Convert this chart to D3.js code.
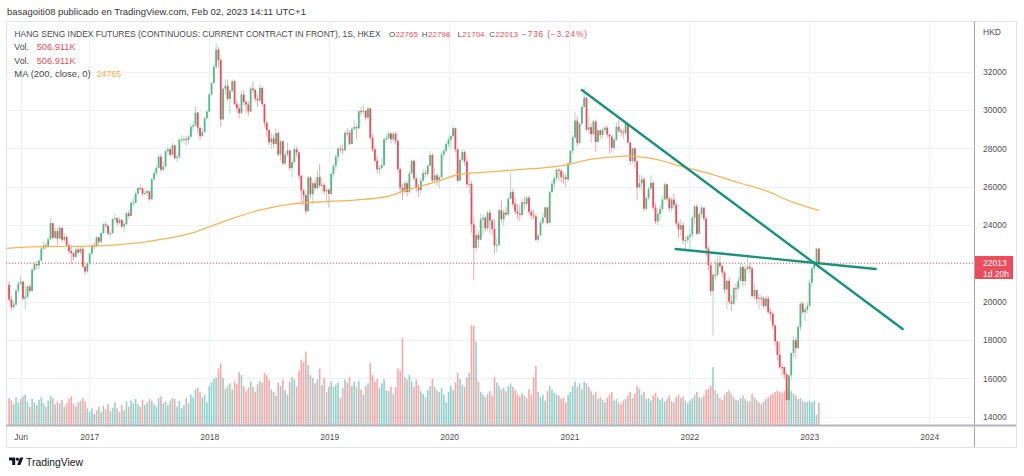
<!DOCTYPE html>
<html>
<head>
<meta charset="utf-8">
<title>Hang Seng Index Futures - weekly</title>
<style>
    body { margin: 0; background: #fff; }
    text { font-family: "Liberation Sans", Arial, sans-serif; }
    .grid line { stroke: #edf0f4; stroke-width: 1px; shape-rendering: crispEdges; }
    .axis text { fill: #4f4f4f; font-size: 8.5px; }
    .legend { font-size: 8.8px; fill: #4a4a4a; }
    .val { fill: #eb4d5c; }
</style>
<script src="https://d3js.org/d3.v7.min.js"></script>
</head>
<body>
<svg id="chart" width="1024" height="476"></svg>
<script>
// weekly bars, first one starts on this monday
const firstWeek = "2016-05-02";

const open = [
    20870,20109,19719,19852,20577,20947,21042,20170,20259,20794,20564,21659,21964,21891,22146,22766,22937,22909,23266,24099,23335,23686,23297,23852,23233,23374,22955,22642,22531,22344,22723,22564,22761,21833,21575,
    22001,22504,22937,22885,23360,23129,23575,24034,23965,23553,23568,24309,24358,24111,24267,23924,24042,24615,24476,25156,25174,25639,25924,25915,25626,25670,25765,25341,26389,26706,26979,27563,26884,27047,27848,27953,27668,28161,27500,27554,28458,28476,28487,28439,28604,29121,29199,29866,29074,28640,28848,29578,
    29919,30814,31412,32255,33154,32602,29507,31115,31268,30583,30996,31502,30309,30093,29844,30808,30418,30281,29927,31122,31048,30588,30493,31158,30309,29338,28955,28316,28525,28224,28804,27676,28367,27213,27672,27889,26973,27286,27954,27789,26573,25801,25561,24717,26486,25601,26183,25928,26506,26064,26095,25753,25845,
    25626,26667,27090,27569,27990,27946,27901,28816,28812,28228,29012,29113,29051,29936,29909,29963,29605,30082,28550,27946,27354,26901,26965,27118,28473,28543,28775,28471,28765,28397,26919,25939,25734,26179,25725,26691,27352,26435,25955,25821,26308,26720,26667,27101,27651,26327,26595,26346,26498,27688,27871,28225,
    28452,28638,29056,27950,26313,27404,27815,27309,26130,26146,24033,22805,23484,23236,24300,24380,23832,24644,24230,23797,22930,22961,24770,24301,24644,24549,25373,25727,25089,24705,24595,24531,25183,25113,25422,24695,24503,24455,23235,23459,24119,24387,24918,24107,25712,26157,26451,26894,26836,26506,26498,26387,
    27231,27878,28573,29447,28284,29289,30173,30644,28980,29099,28740,29405,28336,28939,28699,28970,29078,28725,28610,28027,28458,29124,28918,28842,28801,29288,28310,27344,28004,27321,25961,26179,26391,24849,25407,25901,26205,24920,24192,24575,24837,25330,26126,25377,24870,25327,25049,24080,23766,23995,23192,23223,
    23397,23493,24383,24965,23550,24573,24906,24327,22767,21905,20553,21412,21404,22039,21872,21518,20638,21089,20001,19898,20717,20697,21082,21806,21075,21719,21830,21725,20297,20609,20157,20201,20175,19773,20170,19452,19362,18762,17933,17223,16588,16587,16211,14863,16161,17326,17993,17574,18675,19900,19450,19593,
    19781,21000,21738,22045,22765
];
const high = [
    21050,20300,20050,20650,21050,21330,21100,20880,20880,20950,21750,22080,22100,22200,22850,23120,23050,23350,24360,24100,23880,23850,23950,23900,23550,23450,23050,22950,22600,22800,22880,22900,22850,21900,22050,
    22550,23000,23100,23420,23380,23650,24100,24180,24000,23700,24380,24600,24400,24400,24300,24150,24700,24750,25250,25450,25750,26000,26100,25950,25850,25900,25800,26450,26850,27150,27650,27700,27300,27950,28150,28050,28300,28200,27750,28500,28700,28650,28650,28700,29250,29400,30200,29900,29100,29050,29650,30000,
    30900,31450,32400,33480,33300,32700,31200,31600,31600,31100,31600,31550,30500,30300,31000,31050,30500,30450,31200,31500,31100,30800,31350,31200,30350,29400,29000,28800,28700,29050,28900,28450,28400,27800,28300,27950,27450,28150,28100,27850,26600,25900,25650,26550,26550,26300,26400,26850,27200,26400,26200,25900,25900,
    26800,27200,27650,28050,28150,28200,28900,29050,28950,29100,29500,29250,30000,30150,30280,30000,30200,30100,28750,28050,27600,27150,27500,28550,28750,28950,28850,28850,28850,28450,26950,26150,26300,26300,26800,27400,27400,26500,26150,26450,26900,26900,27150,27850,27750,27000,26700,26600,27800,28050,28300,28600,
    28700,29200,29100,28000,27500,27950,27900,27500,26750,26300,24400,23900,23700,24600,24550,24500,24750,24800,24350,24300,23350,24850,25300,24800,24950,25450,26750,25900,25450,25100,25050,25350,25500,25500,25550,24800,24800,24600,23550,24250,24650,24950,24950,25800,26350,26550,26950,26950,26900,26750,26650,27300,
    27900,28700,29900,29700,29350,30200,31180,30700,29700,29300,29500,29500,29000,29000,29100,29200,29200,28750,28700,28550,29350,29500,29000,29000,29350,29350,28350,28050,28050,27350,26650,26600,26500,25500,26000,26600,26300,25150,24800,25050,25550,26200,26150,25500,25450,25650,25200,24200,24300,24150,23400,23500,
    23800,24500,25050,25100,24700,25050,24950,24450,22900,22050,21550,22200,22400,22400,21900,21600,21150,21300,20350,20800,20950,21300,22050,21950,21900,22300,22050,21850,20950,20650,20350,20350,20300,20300,20300,19650,19500,18800,17950,17900,16750,16600,16300,16200,17350,18200,18150,18800,19950,20000,19700,20000,
    21150,21800,22150,22800,22798
];
const low = [
    19990,19550,19600,19780,20450,20880,20050,19600,20150,20480,20500,21600,21680,21700,22100,22700,22750,22850,23200,23250,23250,22950,23280,23100,23100,22900,22500,21950,22150,22300,22450,22450,21750,21400,21500,
    21900,22400,22700,22850,22900,23050,23550,23850,23450,23350,23550,24200,23950,24050,23850,23650,24000,24350,24450,24950,25100,25550,25800,25500,25550,25550,25250,25300,26300,26600,26950,26750,26800,27000,27700,27550,27650,27400,27300,27500,28300,28300,28150,28250,28550,28900,29150,28800,28450,28600,28800,29500,
    29900,30750,31350,32150,32200,29100,29500,30800,30450,29800,30950,30250,29850,29550,29800,30250,29800,29700,29900,30900,30400,30150,30450,30200,29100,28600,28150,27950,28000,28150,27600,27350,27100,27150,27600,26850,26500,27200,27550,26400,25050,25050,24550,24700,25400,25100,25800,25850,25950,25650,25600,25100,24900,
    25550,26500,26900,27300,27750,27700,27850,28600,28150,28200,28950,28500,29000,29700,29800,29450,29500,28400,27800,27250,26700,26650,26900,27100,28300,28450,28250,28300,28200,26750,25650,25300,25650,25500,25650,26650,26300,25700,25450,25600,26250,26500,26550,27050,26200,26250,26050,25900,26450,27500,27800,28050,
    27950,28550,27800,26200,26300,27300,27100,25950,25600,23600,21140,22600,22800,23200,23500,23650,23700,23600,23500,22500,22550,22900,24100,23950,24450,24450,25350,24950,24550,24300,24200,24450,24800,24950,24500,24300,24300,23150,23100,23450,24050,24350,24050,24100,25700,25900,26300,26300,26200,26150,26000,26300,
    27200,27700,28450,28100,28250,29200,30100,28900,28800,28300,28700,27800,28300,28500,28500,28800,28550,27750,27800,27900,28400,28800,28650,28500,28700,28250,27150,27200,27000,25300,25900,25800,24700,24750,25300,25850,24750,24050,24000,24200,24700,25300,25250,24700,24700,24850,23950,23300,23400,23000,22650,23050,
    22750,23350,24050,23450,23500,24400,24200,22400,21650,20300,18230,21100,21300,21750,21300,20450,19600,19850,19500,19800,20100,20550,21050,20800,20800,21600,21500,20200,20100,19900,19600,19800,19650,19600,19350,19000,18550,17700,16950,16500,16150,15950,14700,14600,15900,17100,17050,17550,18500,19350,19000,19400,
    19750,20800,21500,21900,21704
];
const close = [
    20109,19719,19852,20577,20947,21042,20170,20259,20794,20564,21659,21964,21891,22146,22766,22937,22909,23266,24099,23335,23686,23297,23852,23233,23374,22955,22642,22531,22344,22723,22564,22761,21833,21575,22001,
    22504,22937,22885,23360,23129,23575,24034,23965,23553,23568,24309,24358,24111,24267,23924,24042,24615,24476,25156,25174,25639,25924,25915,25626,25670,25765,25341,26389,26706,26979,27563,26884,27047,27848,27953,27668,28161,27500,27554,28458,28476,28487,28439,28604,29121,29199,29866,29074,28640,28848,29578,29919,
    30814,31412,32255,33154,32602,29507,31115,31268,30583,30996,31502,30309,30093,29844,30808,30418,30281,29927,31122,31048,30588,30493,31158,30309,29338,28955,28316,28525,28224,28804,27676,28367,27213,27672,27889,26973,27286,27954,27789,26573,25801,25561,24717,26486,25601,26183,25928,26506,26064,26095,25753,25845,25626,
    26667,27090,27569,27990,27946,27901,28816,28812,28228,29012,29113,29051,29936,29909,29963,29605,30082,28550,27946,27354,26901,26965,27118,28473,28543,28775,28471,28765,28397,26919,25939,25734,26179,25725,26691,27352,26435,25955,25821,26308,26720,26667,27101,27651,26327,26595,26346,26498,27688,27871,28225,28452,
    28638,29056,27950,26313,27404,27815,27309,26130,26146,24033,22805,23484,23236,24300,24380,23832,24644,24230,23797,22930,22961,24770,24301,24644,24549,25373,25727,25089,24705,24595,24531,25183,25113,25422,24695,24503,24455,23235,23459,24119,24387,24918,24107,25712,26157,26451,26894,26836,26506,26498,26387,27231,
    27878,28573,29447,28284,29289,30173,30644,28980,29099,28740,29405,28336,28939,28699,28970,29078,28725,28610,28027,28458,29124,28918,28842,28801,29288,28310,27344,28004,27321,25961,26179,26391,24849,25407,25901,26205,24920,24192,24575,24837,25330,26126,25377,24870,25327,25049,24080,23766,23995,23192,23223,23397,
    23493,24383,24965,23550,24573,24906,24327,22767,21905,20553,21412,21404,22039,21872,21518,20638,21089,20001,19898,20717,20697,21082,21806,21075,21719,21830,21725,20297,20609,20157,20201,20175,19773,20170,19452,19362,18762,17933,17223,16588,16587,16211,14863,16161,17326,17993,17574,18675,19900,19450,19593,19781,
    21000,21738,22045,22765,22013
];
// volume in thousands of contracts
const volume = [
    620,560,480,640,520,600,660,700,540,420,600,520,460,580,640,500,420,560,680,620,480,540,500,580,420,500,600,660,480,420,520,560,620,540,380,
    300,380,260,340,420,300,440,360,480,320,400,520,380,300,460,340,540,420,560,500,600,480,420,580,460,520,600,560,480,420,620,660,500,540,460,560,620,600,420,560,380,460,620,500,700,640,820,860,760,640,700,520,
    900,980,1060,1100,1300,1420,1080,840,900,960,820,1000,940,1220,1150,900,780,860,1000,880,760,940,1020,980,1200,1150,1050,820,760,680,980,900,1050,800,700,1000,1100,1050,880,1250,1500,1450,1690,1380,1150,1080,960,1050,1300,920,1080,760,880,
    1000,880,920,980,620,860,1050,980,1100,900,1000,880,1020,820,700,900,960,1430,1150,1000,1060,860,960,1050,800,780,880,720,880,1300,1250,2000,1100,1050,1150,1000,880,1050,920,780,720,640,800,900,1060,880,800,760,860,700,520,760,
    900,800,980,1200,1060,920,880,1100,1200,2300,2280,1920,1000,760,700,640,720,780,680,1100,980,900,820,860,780,900,960,880,800,720,660,740,680,620,820,700,1100,1360,760,640,700,560,780,900,820,740,700,680,600,640,520,700,
    760,900,1000,880,960,820,1000,960,880,780,700,760,600,640,580,520,620,700,760,560,600,520,480,560,600,680,760,620,720,900,840,700,760,600,620,560,680,740,640,580,620,540,600,680,560,520,640,700,620,660,560,500,
    560,620,700,760,640,620,680,820,840,900,1330,800,720,620,580,700,760,800,720,640,580,560,620,680,600,560,540,720,640,580,520,480,540,600,640,700,720,760,800,760,740,780,840,820,780,720,680,600,620,560,520,540,
    560,520,560,240,506.911
];

// MA (200, close)
const maDates = ["2016-04-25","2016-08-01","2017-01-02","2017-03-27","2017-09-04","2017-11-13","2018-01-01","2018-02-26","2018-05-28","2018-09-10",
    "2019-01-02","2019-03-18","2019-06-24","2019-08-26","2019-11-25","2020-02-03","2020-05-04","2020-07-13","2020-10-26","2021-01-04",
    "2021-02-22","2021-04-26","2021-06-28","2021-08-30","2021-12-13","2022-02-28","2022-06-06","2022-08-29","2022-11-07","2023-01-30"];
const maValues = [22780,22870,22900,22960,23330,23600,23910,24260,24750,25100,
    25230,25300,25480,25830,26260,26650,26770,26870,27010,27180,
    27390,27530,27600,27500,27040,26700,26180,25740,25220,24765];

// the two drawn trend lines
const trendFrom = ["2021-02-08", "2021-11-20"];
const trendFromPrice = [31044, 22749];
const trendTo = ["2023-10-12", "2023-07-22"];
const trendToPrice = [18575, 21705];

const priceTicks = [14000,16000,18000,20000,22000,24000,26000,28000,30000,32000];
const timeTicks = ["2016-06-06","2017-01-01","2018-01-01","2019-01-01","2020-01-01","2021-01-01","2022-01-01","2023-01-01","2024-01-01"];
const timeLabels = ["Jun","2017","2018","2019","2020","2021","2022","2023","2024"];
const lastPrice = 22013;

// ---- layout
const frameL = 6, frameT = 21, frameR = 1016, frameB = 447;
const plotR = 974, plotB = 425;

const upColor = "#53b987", downColor = "#eb4d5c";
const upWick = "#a9dcc3", downWick = "#f5a6ae";
const upVol = "rgba(38,166,154,0.5)", downVol = "rgba(239,83,80,0.5)";

const parse = d3.timeParse("%Y-%m-%d");
const start = parse(firstWeek);

const bars = close.map((c, i) => ({
    t: d3.timeMonday.offset(start, i),
    o: open[i], h: high[i], l: low[i], c: c, v: volume[i],
    up: c >= open[i]
}));

const x = d3.scaleTime()
    .domain([parse("2017-01-01"), parse("2023-01-01")])
    .range([89.3, 809.3]);
const y = d3.scaleLinear().domain([14000, 32000]).range([416.7, 71.7]);
const yVol = d3.scaleLinear().domain([0, 2400]).range([plotB, plotB - 104.2]);

const svg = d3.select("#chart");

// shrink the font until the text takes the wanted width
function fitWidth(sel, w) {
    const fs = parseFloat(sel.style("font-size"));
    const len = sel.node().getComputedTextLength();
    if (len > 0) sel.style("font-size", (fs * w / len).toFixed(2) + "px");
    return sel;
}

svg.append("defs").append("clipPath").attr("id", "plotClip")
    .append("rect").attr("x", frameL).attr("y", frameT)
    .attr("width", plotR - frameL).attr("height", plotB - frameT);

// header
fitWidth(svg.append("text").attr("x", 7).attr("y", 15.2)
    .style("font-size", "9.6px").style("fill", "#333")
    .text("basagoiti08 publicado en TradingView.com, Feb 02, 2023 14:11 UTC+1"), 299);

// frame
svg.append("rect").attr("x", frameL + 0.5).attr("y", frameT + 0.5)
    .attr("width", frameR - frameL).attr("height", frameB - frameT)
    .attr("fill", "none").attr("stroke", "#e0e3eb");

// grid
const grid = svg.append("g").attr("class", "grid");
grid.selectAll(".h").data(priceTicks).join("line").attr("class", "h")
    .attr("x1", frameL).attr("x2", plotR)
    .attr("y1", d => Math.round(y(d)) + 0.5).attr("y2", d => Math.round(y(d)) + 0.5);
grid.selectAll(".v").data(timeTicks).join("line").attr("class", "v")
    .attr("x1", d => Math.round(x(parse(d))) + 0.5).attr("x2", d => Math.round(x(parse(d))) + 0.5)
    .attr("y1", frameT).attr("y2", plotB);

const plot = svg.append("g").attr("clip-path", "url(#plotClip)");

// volume
plot.append("g").selectAll("rect").data(bars).join("rect")
    .attr("x", d => x(d.t) - 0.8)
    .attr("width", 1.6)
    .attr("y", d => yVol(d.v))
    .attr("height", d => plotB - yVol(d.v))
    .attr("fill", d => d.up ? upVol : downVol);

// last price dotted line
plot.append("line")
    .attr("x1", frameL).attr("x2", plotR)
    .attr("y1", y(lastPrice)).attr("y2", y(lastPrice))
    .attr("stroke", downColor).attr("stroke-width", 1)
    .attr("stroke-dasharray", "1,2");

// candles
const candles = plot.append("g");
candles.selectAll("line").data(bars).join("line")
    .attr("x1", d => x(d.t)).attr("x2", d => x(d.t))
    .attr("y1", d => y(d.h)).attr("y2", d => y(d.l))
    .attr("stroke", d => d.up ? upWick : downWick)
    .attr("stroke-width", 1);
candles.selectAll("rect").data(bars).join("rect")
    .attr("x", d => x(d.t) - 0.9)
    .attr("width", 1.8)
    .attr("y", d => y(Math.max(d.o, d.c)))
    .attr("height", d => Math.max(1, Math.abs(y(d.o) - y(d.c))))
    .attr("fill", d => d.up ? upColor : downColor);

// moving average
const ma = maDates.map((d, i) => ({t: parse(d), v: maValues[i]}));
plot.append("path").datum(ma)
    .attr("d", d3.line().x(d => x(d.t)).y(d => y(d.v)).curve(d3.curveMonotoneX))
    .attr("fill", "none").attr("stroke", "#f9b455").attr("stroke-width", 1.3);

// trend lines
plot.append("g").selectAll("line").data(trendFrom).join("line")
    .attr("x1", (d, i) => x(parse(trendFrom[i])))
    .attr("y1", (d, i) => y(trendFromPrice[i]))
    .attr("x2", (d, i) => x(parse(trendTo[i])))
    .attr("y2", (d, i) => y(trendToPrice[i]))
    .attr("stroke", "#16937a").attr("stroke-width", 2.4)
    .attr("stroke-linecap", "round");

// axes lines
svg.append("line").attr("x1", plotR + 0.5).attr("x2", plotR + 0.5)
    .attr("y1", frameT).attr("y2", frameB)
    .attr("stroke", "#a3a6ae").attr("stroke-width", 1);
svg.append("line").attr("x1", frameL).attr("x2", frameR)
    .attr("y1", plotB + 0.5).attr("y2", plotB + 0.5)
    .attr("stroke", "#b2b5be").attr("stroke-width", 2);

// price axis
const yAxis = svg.append("g").attr("class", "axis")
    .attr("transform", "translate(" + plotR + ",0)")
    .call(d3.axisRight(y).tickValues(priceTicks).tickSize(0).tickPadding(9).tickFormat(d3.format("d")));
yAxis.select(".domain").remove();
yAxis.selectAll("text").style("font-family", "'Liberation Sans', Arial, sans-serif");

svg.append("text").attr("class", "axis").attr("x", 983).attr("y", 35)
    .style("font-size", "8.5px").style("fill", "#4f4f4f").text("HKD");

// time axis
const xAxis = svg.append("g").attr("class", "axis")
    .attr("transform", "translate(0," + plotB + ")")
    .call(d3.axisBottom(x).tickValues(timeTicks.map(parse)).tickSize(0).tickPadding(9)
        .tickFormat((d, i) => timeLabels[i]));
xAxis.select(".domain").remove();
xAxis.selectAll("text").style("font-family", "'Liberation Sans', Arial, sans-serif");

// last price tag
const tagY = y(lastPrice);
svg.append("rect").attr("x", plotR + 1).attr("y", tagY - 7.1)
    .attr("width", 38).attr("height", 23).attr("fill", downColor);
svg.append("text").attr("x", 983).attr("y", tagY + 3.2)
    .style("font-size", "8.5px").style("fill", "#fff").text(d3.format("d")(lastPrice));
svg.append("text").attr("x", 983).attr("y", tagY + 14)
    .style("font-size", "8.5px").style("fill", "#fff").text("1d 20h");

// legend
const lg = svg.append("g").attr("class", "legend");
fitWidth(lg.append("text").attr("x", 14.5).attr("y", 37.3).style("font-size", "8.8px")
    .text("HANG SENG INDEX FUTURES (CONTINUOUS: CURRENT CONTRACT IN FRONT), 1S, HKEX"), 366);
// letter, letter x, value x, value
const ohlc = [["O", 389, 395.6, "22765"], ["H", 421.8, 428, "22798"], ["L", 457.5, 462.3, "21704"], ["C", 489.3, 495.6, "22013"]];
ohlc.forEach(d => {
    lg.append("text").attr("x", d[1]).attr("y", 37.3).style("font-size", "8px").text(d[0]);
    lg.append("text").attr("class", "val").attr("x", d[2]).attr("y", 37.3).style("font-size", "8px").text(d[3]);
});
lg.append("text").attr("class", "val").attr("x", 522).attr("y", 37.3)
    .style("font-size", "8.4px").style("letter-spacing", "0.8px")
    .text("\u2212736 (\u22123.24%)");

[50.2, 64].forEach(b => {
    lg.append("text").attr("x", 14.3).attr("y", b).text("Vol.");
    fitWidth(lg.append("text").attr("class", "val").attr("x", 36.7).attr("y", b).style("font-size", "8.8px")
        .text("506.911K"), 39);
});
fitWidth(lg.append("text").attr("x", 14.3).attr("y", 77).style("font-size", "8.8px")
    .text("MA (200, close, 0)"), 76.5);
lg.append("text").attr("x", 96.7).attr("y", 77).style("fill", "#f7a94b")
    .text(d3.format("d")(maValues[maValues.length - 1]));

// TradingView mark at the bottom
const logo = svg.append("g").attr("fill", "#131722");
logo.append("path").attr("d", "M9 457.5h6.2v7.5h-3v-4.6h-3.2z");
logo.append("circle").attr("cx", 17.4).attr("cy", 459.2).attr("r", 1.6);
logo.append("path").attr("d", "M20 457.5h3.4l-3 7.5h-3.3z");
fitWidth(svg.append("text").attr("x", 26).attr("y", 465.5)
    .style("font-size", "10px").style("fill", "#131722").text("TradingView"), 57);
</script>
</body>
</html>
